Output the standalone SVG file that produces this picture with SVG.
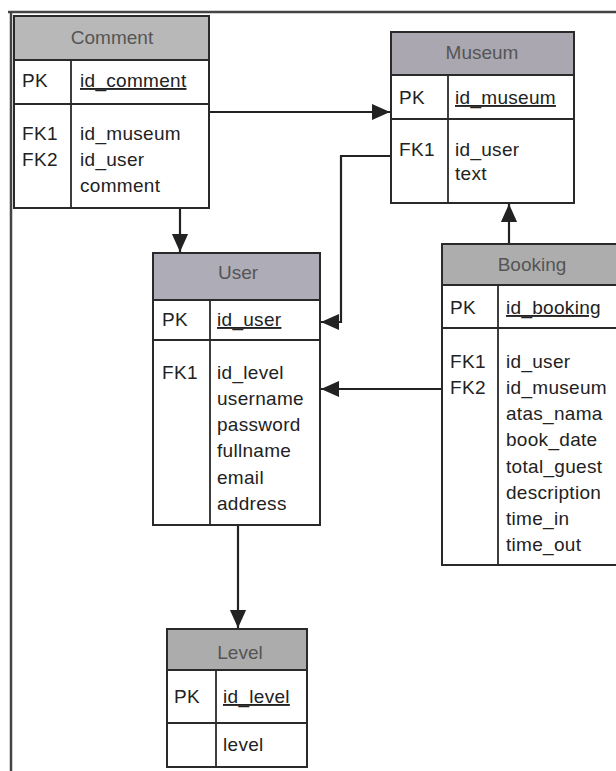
<svg xmlns="http://www.w3.org/2000/svg" width="616" height="771" viewBox="0 0 616 771">
<defs>
<style>
.box{fill:#fff;stroke:#2a2a2a;stroke-width:2}
.hdr{stroke:#2a2a2a;stroke-width:2}
.ln{stroke:#2a2a2a;stroke-width:1.8;fill:none}
.t{font-family:"Liberation Sans",Arial,sans-serif;font-size:19px;letter-spacing:0.3px;fill:#222}
.h{font-family:"Liberation Sans",Arial,sans-serif;font-size:19px;fill:#555;text-anchor:middle}
.u{text-decoration:underline}
.c{stroke:#222;stroke-width:2.2;fill:none}
</style>
<marker id="ar2" viewBox="0 0 10 10" refX="10" refY="5" markerWidth="18" markerHeight="18" markerUnits="userSpaceOnUse" orient="auto">
<path d="M0,0.5 L10,5 L0,9.5 z" fill="#222"/>
</marker>
</defs>
<rect width="616" height="771" fill="#fff"/>
<path d="M8,12 H616 M11,12 V771" stroke="#444" stroke-width="2.5" fill="none"/>

<g id="connectors">
<path class="c" d="M209,112 H390" marker-end="url(#ar2)"/>
<path class="c" d="M180,208 V252" marker-end="url(#ar2)"/>
<path class="c" d="M391,156 H341 V322 H321" marker-end="url(#ar2)"/>
<path class="c" d="M442,389 H321" marker-end="url(#ar2)"/>
<path class="c" d="M509,244 V204" marker-end="url(#ar2)"/>
<path class="c" d="M238,525 V628" marker-end="url(#ar2)"/>
</g>

<g id="comment">
<rect class="box" x="14" y="16" width="195" height="192"/>
<rect class="hdr" x="14" y="16" width="195" height="44" fill="#b8b8b8"/>
<path class="ln" d="M14,104 H209 M71,60 V208"/>
<text class="h" x="112" y="44">Comment</text>
<text class="t" x="22" y="87">PK</text>
<text class="t u" x="80" y="87">id_comment</text>
<text class="t" x="22" y="140">FK1</text>
<text class="t" x="22" y="166">FK2</text>
<text class="t" x="80" y="140">id_museum</text>
<text class="t" x="80" y="166">id_user</text>
<text class="t" x="80" y="192">comment</text>
</g>

<g id="museum">
<rect class="box" x="391" y="32" width="183" height="171"/>
<rect class="hdr" x="391" y="32" width="183" height="43" fill="#aaa7b0"/>
<path class="ln" d="M391,119 H574 M448,75 V203"/>
<text class="h" x="482" y="59">Museum</text>
<text class="t" x="399" y="104">PK</text>
<text class="t u" x="455" y="104">id_museum</text>
<text class="t" x="399" y="156">FK1</text>
<text class="t" x="455" y="156">id_user</text>
<text class="t" x="455" y="180">text</text>
</g>

<g id="user">
<rect class="box" x="153" y="253" width="167" height="272"/>
<rect class="hdr" x="153" y="253" width="167" height="47" fill="#aeacb6"/>
<path class="ln" d="M153,340 H320 M210,300 V525"/>
<text class="h" x="238" y="279">User</text>
<text class="t" x="162" y="326">PK</text>
<text class="t u" x="217" y="326">id_user</text>
<text class="t" x="162" y="379">FK1</text>
<text class="t" x="217" y="379">id_level</text>
<text class="t" x="217" y="405">username</text>
<text class="t" x="217" y="431">password</text>
<text class="t" x="217" y="457">fullname</text>
<text class="t" x="217" y="484">email</text>
<text class="t" x="217" y="510">address</text>
</g>

<g id="booking">
<rect class="box" x="442" y="244" width="190" height="321"/>
<rect class="hdr" x="442" y="244" width="190" height="41" fill="#adadad"/>
<path class="ln" d="M442,328 H632 M498,285 V565"/>
<text class="h" x="532" y="271">Booking</text>
<text class="t" x="450" y="314">PK</text>
<text class="t u" x="506" y="314">id_booking</text>
<text class="t" x="450" y="368">FK1</text>
<text class="t" x="450" y="394">FK2</text>
<text class="t" x="506" y="368">id_user</text>
<text class="t" x="506" y="394">id_museum</text>
<text class="t" x="506" y="420">atas_nama</text>
<text class="t" x="506" y="446">book_date</text>
<text class="t" x="506" y="473">total_guest</text>
<text class="t" x="506" y="499">description</text>
<text class="t" x="506" y="525">time_in</text>
<text class="t" x="506" y="551">time_out</text>
</g>

<g id="level">
<rect class="box" x="167" y="629" width="140" height="138"/>
<rect class="hdr" x="167" y="629" width="140" height="41" fill="#acacac"/>
<path class="ln" d="M167,723 H307 M216,670 V767"/>
<text class="h" x="240" y="659">Level</text>
<text class="t" x="174" y="703">PK</text>
<text class="t u" x="223" y="703">id_level</text>
<text class="t" x="223" y="751">level</text>
</g>
</svg>
